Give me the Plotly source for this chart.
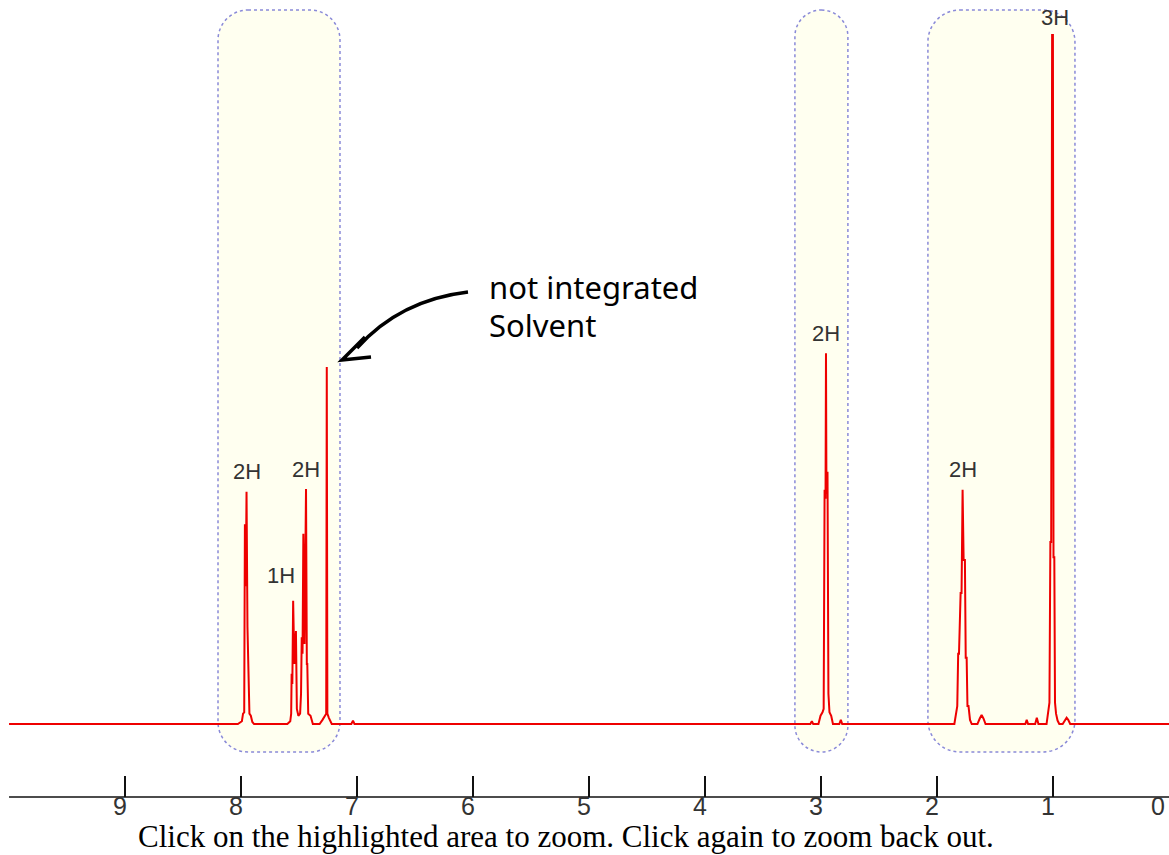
import plotly.graph_objects as go

# ---------------- data (ppm, relative intensity; tallest line = 100) ----------------
start_ppm = [10.0]
start_int = [0.0]

arom_d_ppm = [8.027, 7.992, 7.982, 7.972, 7.966, 7.959, 7.952, 7.944, 7.935, 7.927, 7.915, 7.902, 7.887]
arom_d_int = [0.0, 0.4, 1.5, 1.7, 29.0, 20.0, 33.7, 14.1, 4.4, 1.5, 1.2, 0.3, 0.0]

arom_t_ppm = [7.600, 7.575, 7.567, 7.563, 7.557, 7.550, 7.540, 7.526, 7.518, 7.505, 7.490,
              7.482, 7.476, 7.469, 7.462, 7.452, 7.439, 7.432, 7.428, 7.420, 7.400, 7.380]
arom_t_int = [0.0, 0.4, 1.5, 7.3, 5.8, 17.9, 8.7, 13.5, 2.2, 1.2, 1.5,
              4.4, 12.6, 10.2, 27.6, 11.6, 34.1, 8.7, 8.7, 1.5, 1.2, 0.0]

solvent_ppm = [7.322, 7.297, 7.280, 7.265, 7.260, 7.255, 7.242, 7.217]
solvent_int = [0.0, 0.6, 1.2, 1.5, 51.8, 1.5, 0.9, 0.0]

imp1_ppm = [7.048, 7.034, 7.021]
imp1_int = [0.0, 0.5, 0.0]

ch2co_ppm = [3.090, 3.077, 3.065, 3.020, 3.002, 2.985, 2.975, 2.967, 2.959, 2.955, 2.951,
             2.942, 2.934, 2.925, 2.910, 2.895, 2.840, 2.827, 2.815]
ch2co_int = [0.0, 0.4, 0.0, 0.0, 1.2, 1.7, 2.2, 34.0, 32.7, 53.8, 33.4,
             36.6, 4.4, 1.7, 1.2, 0.0, 0.0, 0.6, 0.0]

ch2_ppm = [1.848, 1.833, 1.823, 1.815, 1.808, 1.794, 1.786, 1.777, 1.768, 1.757, 1.750,
           1.742, 1.735, 1.726, 1.713, 1.698]
ch2_int = [0.0, 1.7, 2.6, 10.2, 10.2, 19.0, 19.0, 34.0, 23.8, 23.8, 9.6,
           9.6, 2.6, 2.6, 0.6, 0.0]

water_ppm = [1.649, 1.629, 1.613, 1.597, 1.579]
water_int = [0.0, 0.8, 1.3, 0.8, 0.0]

imp2_ppm = [1.236, 1.224, 1.212, 1.151, 1.137, 1.123]
imp2_int = [0.0, 0.6, 0.0, 0.0, 0.9, 0.0]

ch3_ppm = [1.053, 1.041, 1.028, 1.020, 1.013, 1.005, 0.998, 0.993, 0.986, 0.980, 0.971, 0.958, 0.943]
ch3_int = [0.0, 1.5, 3.1, 26.4, 26.4, 100.0, 100.0, 24.2, 24.2, 3.1, 1.5, 0.5, 0.0]

imp3_ppm = [0.914, 0.894, 0.880, 0.866, 0.849]
imp3_int = [0.0, 0.6, 0.9, 0.6, 0.0]

end_ppm = [-0.01]
end_int = [0.0]

# integration labels
label_text = ["2H", "1H", "2H", "2H", "2H", "3H"]
label_ppm = [7.952, 7.550, 7.439, 2.955, 1.777, 1.000]
label_int = [33.7, 17.9, 34.1, 53.8, 34.0, 100.0]

# highlighted (integrated) regions: ppm from / to
region_ppm_left = [8.198, 3.223, 2.076]
region_ppm_right = [7.146, 2.766, 0.808]

tick_vals = [0, 1, 2, 3, 4, 5, 6, 7, 8, 9]
tick_text = ["0", "1", "2", "3", "4", "5", "6", "7", "8", "9"]

# ---------------- build ----------------
ppm = (start_ppm + arom_d_ppm + arom_t_ppm + solvent_ppm + imp1_ppm + ch2co_ppm
       + ch2_ppm + water_ppm + imp2_ppm + ch3_ppm + imp3_ppm + end_ppm)
inten = (start_int + arom_d_int + arom_t_int + solvent_int + imp1_int + ch2co_int
         + ch2_int + water_int + imp2_int + ch3_int + imp3_int + end_int)

W, H = 1169, 855
X_RANGE = [10.078, -0.003]
Y_RANGE = [-19.01, 105.08]
AXIS_PX = 797


def px_x(v):
    return (v - X_RANGE[0]) / (X_RANGE[1] - X_RANGE[0]) * W


def P(x, y):
    return f"{x / W:.5f},{1 - y / H:.5f}"


def rrect(x0, y0, x1, y1, r):
    k = 0.5523 * r
    return (f"M {P(x0 + r, y0)} L {P(x1 - r, y0)} "
            f"C {P(x1 - r + k, y0)} {P(x1, y0 + r - k)} {P(x1, y0 + r)} "
            f"L {P(x1, y1 - r)} "
            f"C {P(x1, y1 - r + k)} {P(x1 - r + k, y1)} {P(x1 - r, y1)} "
            f"L {P(x0 + r, y1)} "
            f"C {P(x0 + r - k, y1)} {P(x0, y1 - r + k)} {P(x0, y1 - r)} "
            f"L {P(x0, y0 + r)} "
            f"C {P(x0, y0 + r - k)} {P(x0 + r - k, y0)} {P(x0 + r, y0)} Z")


fig = go.Figure()
fig.add_trace(go.Scatter(x=ppm, y=inten, mode="lines",
                         line=dict(color="#ee0000", width=2),
                         hoverinfo="skip", showlegend=False))

shapes = []
radii = [30, 26.5, 32]
for a, b, r in zip(region_ppm_left, region_ppm_right, radii):
    shapes.append(dict(type="path", xref="paper", yref="paper",
                       path=rrect(px_x(a), 10, px_x(b), 752, r),
                       line=dict(color="#8a8ad8", width=1.5, dash="dot"),
                       fillcolor="#fffff0", layer="below"))

# axis line
shapes.append(dict(type="line", xref="x", yref="paper", x0=10.0, x1=-0.003,
                   y0=1 - AXIS_PX / H, y1=1 - AXIS_PX / H,
                   line=dict(color="#111111", width=1.5)))

# hand-drawn arrow
shapes.append(dict(type="path", xref="paper", yref="paper",
                   path=f"M {P(468, 292)} Q {P(400, 300)} {P(357, 348)}",
                   line=dict(color="black", width=3.5)))
shapes.append(dict(type="path", xref="paper", yref="paper",
                   path=f"M {P(365, 337)} L {P(342, 360)} L {P(371, 357)}",
                   line=dict(color="black", width=3.5)))

annotations = []
for t, xv, yv in zip(label_text, label_ppm, label_int):
    xs, ys = 0, 20
    if t == "1H":
        xs, ys = -12, 25
    if t == "3H":
        xs, ys = 2, 18
    annotations.append(dict(x=xv, y=yv, xref="x", yref="y", text=t, showarrow=False,
                            xshift=xs, yshift=ys, yanchor="middle",
                            font=dict(family="Liberation Sans, Arial", size=22, color="#333333")))

# tick labels (drawn as text so the one at 0 at the right edge is kept)
for tv, tt in zip(tick_vals, tick_text):
    edge = tv == min(tick_vals)
    annotations.append(dict(x=tv, y=1 - 806 / H, xref="x", yref="paper", text=tt,
                            showarrow=False, xshift=-2 if edge else -5,
                            yanchor="middle", xanchor="right" if edge else "center",
                            font=dict(family="Liberation Sans Narrow, Liberation Sans, Arial",
                                      size=25, color="#333333")))

annotations.append(dict(x=487 / W, y=1 - 287 / H, xref="paper", yref="paper",
                        text="not integrated", showarrow=False, xanchor="left", yanchor="middle",
                        font=dict(family="Noto Sans", size=31, color="black")))
annotations.append(dict(x=487 / W, y=1 - 325 / H, xref="paper", yref="paper",
                        text="Solvent", showarrow=False, xanchor="left", yanchor="middle",
                        font=dict(family="Noto Sans", size=31, color="black")))

annotations.append(dict(x=566 / W, y=0, xref="paper", yref="paper",
                        text="Click on the highlighted area to zoom. Click again to zoom back out.",
                        showarrow=False, xanchor="center", yanchor="bottom", borderpad=0,
                        font=dict(family="Liberation Serif, Times New Roman", size=31, color="black")))

fig.update_layout(
    width=W, height=H,
    margin=dict(l=0, r=0, t=0, b=0),
    paper_bgcolor="white", plot_bgcolor="rgba(0,0,0,0)",
    showlegend=False,
    shapes=shapes,
    annotations=annotations,
    xaxis=dict(range=X_RANGE, anchor="free", position=1 - AXIS_PX / H,
               showline=False, showgrid=False, zeroline=False,
               ticks="inside", ticklen=21, tickwidth=1.5, tickcolor="#111111",
               tickvals=tick_vals, showticklabels=False),
    yaxis=dict(range=Y_RANGE, visible=False, fixedrange=True),
)

fig.write_html("out.html", config={"displayModeBar": False})
